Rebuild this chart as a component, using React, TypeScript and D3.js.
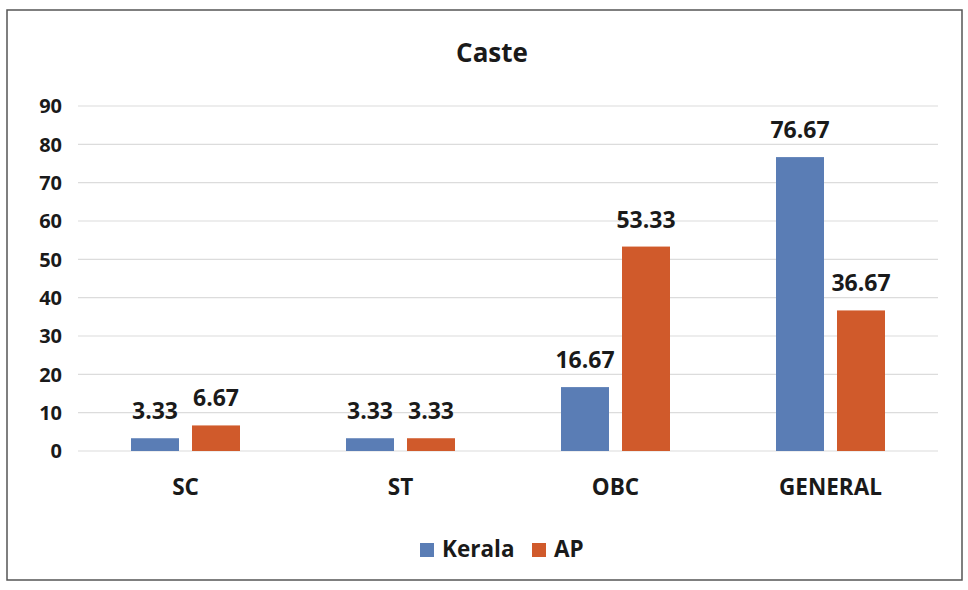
import React from "react";
import * as d3 from "d3";

const categories = ["SC", "ST", "OBC", "GENERAL"];
const kerala = [3.33, 3.33, 16.67, 76.67];
const ap = [6.67, 3.33, 53.33, 36.67];
const seriesNames = ["Kerala", "AP"];
const yTicks = [0, 10, 20, 30, 40, 50, 60, 70, 80, 90];
const title = "Caste";

const W = 968;
const H = 590;
const colors = ["#5a7db5", "#d05a2b"];
const font = "'Open Sans', 'Liberation Sans', sans-serif";

export default function App() {
  const left = 78;
  const right = 938;
  const top = 106;
  const bottom = 451;
  const x = d3.scaleBand<string>().domain(categories).range([left, right]).paddingInner(0).paddingOuter(0);
  const y = d3.scaleLinear().domain([0, 90]).range([bottom, top]);
  const barW = 48;
  const gap = 13;
  const series = [kerala, ap];

  return (
    <svg width={W} height={H} style={{ position: "absolute", left: 0, top: 0, background: "#fff" }}>
      <rect x={0} y={0} width={W} height={H} fill="#fff" />
      <rect x={7} y={10} width={955} height={570} fill="none" stroke="#555" strokeWidth={1.5} />
      <text x={492} y={62} textAnchor="middle" fontFamily={font} fontWeight="bold" fontSize={26} fill="#1a1a1a">
        {title}
      </text>
      {yTicks.map((t) => (
        <g key={t}>
          <line x1={left} x2={right} y1={y(t)} y2={y(t)} stroke="#dcdcdc" strokeWidth={1.2} />
          <text x={62} y={y(t)} dy="0.36em" textAnchor="end" fontFamily={font} fontWeight="bold" fontSize={20} fill="#1a1a1a">
            {t}
          </text>
        </g>
      ))}
      {categories.map((c, i) => {
        const cx = (x(c) as number) + x.bandwidth() / 2;
        return (
          <g key={c}>
            {series.map((s, j) => {
              const bx = j === 0 ? cx - gap / 2 - barW : cx + gap / 2;
              const v = s[i];
              return (
                <g key={j}>
                  <rect x={bx} y={y(v)} width={barW} height={y(0) - y(v)} fill={colors[j]} />
                  <text x={bx + barW / 2} y={y(v) - 19} textAnchor="middle" fontFamily={font} fontWeight="bold" fontSize={23} fill="#1a1a1a">
                    {v.toFixed(2)}
                  </text>
                </g>
              );
            })}
            <text x={cx} y={495} textAnchor="middle" fontFamily={font} fontWeight="bold" fontSize={22.5} fill="#1a1a1a">
              {c}
            </text>
          </g>
        );
      })}
      <g>
        <rect x={420} y={543} width={14} height={14} fill={colors[0]} />
        <text x={442} y={557} fontFamily={font} fontWeight="bold" fontSize={22.5} fill="#1a1a1a">
          {seriesNames[0]}
        </text>
        <rect x={532} y={543} width={14} height={14} fill={colors[1]} />
        <text x={554} y={557} fontFamily={font} fontWeight="bold" fontSize={22.5} fill="#1a1a1a">
          {seriesNames[1]}
        </text>
      </g>
    </svg>
  );
}
